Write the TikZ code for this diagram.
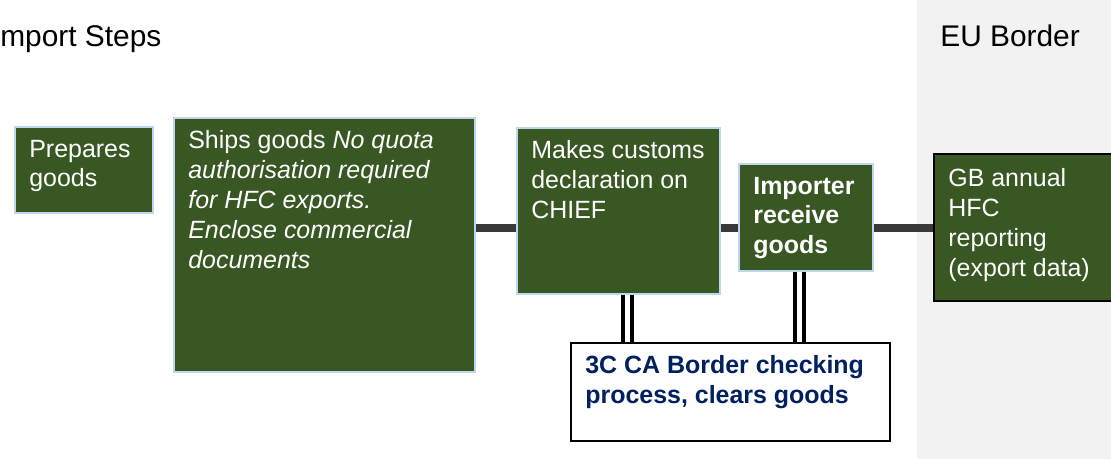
\documentclass[tikz,border=0pt]{standalone}
\usepackage{fontspec}
\setmainfont{Liberation Sans}
\usetikzlibrary{positioning, backgrounds}
\definecolor{stepgreen}{HTML}{385723}
\definecolor{edgeblue}{HTML}{BDD7EE}
\definecolor{checknavy}{HTML}{002060}
\definecolor{eugrey}{HTML}{F2F2F2}
\definecolor{linkgrey}{HTML}{383838}
\newcommand{\boxfont}{\fontsize{14.2}{17}\selectfont}
\newcommand{\headfont}{\fontsize{17}{20}\selectfont}

\begin{document}
\begin{tikzpicture}[
  x=0.02cm, y=-0.02cm,
  stepbox/.style={rectangle, draw=edgeblue, fill=stepgreen, line width=1.4pt,
                  anchor=north west, inner sep=0pt},
  endbox/.style={stepbox, draw=black},
  checkbox/.style={rectangle, draw=black, fill=white, line width=1.4pt,
                   anchor=north west, inner sep=0pt},
  steptext/.style={anchor=north west, align=left, text=white, font=\boxfont,
                   inner xsep=0.3cm, inner ysep=0.27cm},
  checktext/.style={steptext, text=checknavy, font=\boxfont\bfseries},
  header/.style={anchor=base west, inner sep=0pt, font=\headfont},
  link/.style={draw=linkgrey, line width=4.5pt},
  dbl/.style={draw=black, double=white, line width=2.2pt, double distance=2.8pt},
]

%% FRAME
\useasboundingbox (0,0) rectangle (1111,459);
\clip (0,0) rectangle (1111,459);

%% HEADINGS
\node[header] (imphead) at (0,47)   {mport Steps};
\node[header] (euhead)  at (940,47) {EU Border};

%% STEP BOXES
\node[stepbox, minimum width=2.76cm, minimum height=1.72cm] (prep)     at (14,126)  {};
\node[stepbox, minimum width=6.02cm, minimum height=5.08cm] (ships)    at (173,117) {};
\node[stepbox, minimum width=4.06cm, minimum height=3.32cm] (chief)    at (516,127) {};
\node[stepbox, minimum width=2.68cm, minimum height=2.14cm] (importer) at (738,163) {};
\node[endbox,  minimum width=3.80cm, minimum height=2.94cm] (report)   at (933,153) {};
\node[checkbox, minimum width=6.38cm, minimum height=1.96cm] (check)   at (570,342) {};

%% BOX TEXTS
\node[steptext] (preptext) at (prep.north west) {Prepares\\goods};
\node[steptext] (shipstext) at (ships.north west)
  {Ships goods \textit{No quota}\\\textit{authorisation required}\\
   \textit{for HFC exports.}\\\textit{Enclose commercial}\\\textit{documents}};
\node[steptext] (chieftext) at (chief.north west)
  {Makes customs\\declaration on\\CHIEF};
\node[steptext, font=\boxfont\bfseries] (importertext) at (importer.north west)
  {Importer\\receive\\goods};
\node[steptext, inner ysep=0.31cm] (reporttext) at (report.north west)
  {GB annual\\HFC\\reporting\\(export data)};
\node[checktext] (checktext) at (check.north west)
  {3C CA Border checking\\process, clears goods};

%% CONNECTORS
\coordinate (flow) at (0,228);
\begin{scope}[on background layer]
\fill[eugrey] (917,0) rectangle (1120,470);

\draw[link] (ships.east |- flow)    -- (chief.west |- flow);
\draw[link] (chief.east |- flow)    -- (importer.west |- flow);
\draw[link] (importer.east |- flow) -- (report.west |- flow);

\draw[dbl] ([xshift=0.17cm]chief.south) coordinate (clearA) -- (clearA |- check.north);
\draw[dbl] ([xshift=-0.13cm]importer.south) coordinate (clearB) -- (clearB |- check.north);
\end{scope}

\end{tikzpicture}
\end{document}
